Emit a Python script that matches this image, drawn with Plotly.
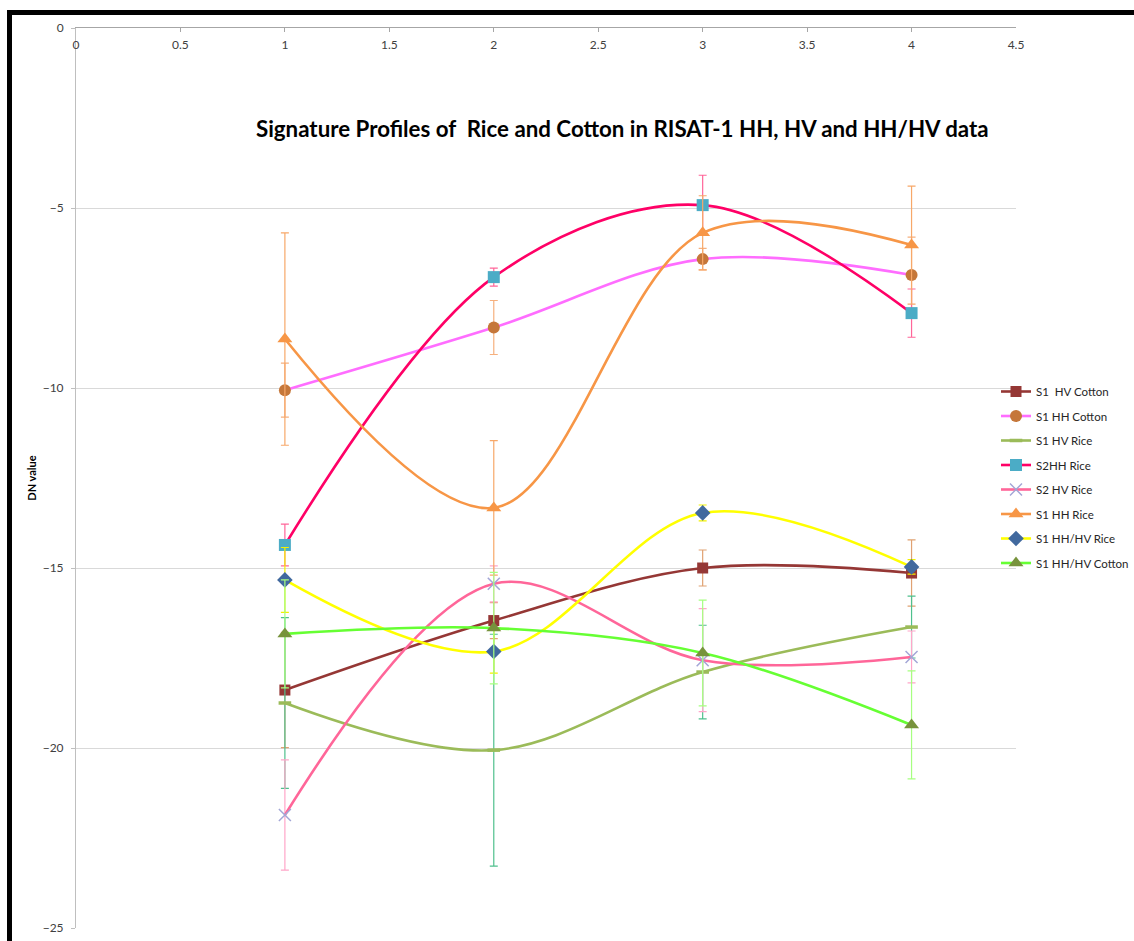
import plotly.graph_objects as go

# ---- data ----
x_vals = [1, 2, 3, 4]
series_names = ["S1  HV Cotton", "S1 HH Cotton", "S1 HV Rice", "S2HH Rice",
                "S2 HV Rice", "S1 HH Rice", "S1 HH/HV Rice", "S1 HH/HV Cotton"]

s1_hv_cotton = [-18.39, -16.46, -15.0, -15.14]
s1_hh_cotton = [-10.06, -8.32, -6.42, -6.86]
s1_hv_rice = [-18.75, -20.06, -17.89, -16.64]
s2_hh_rice = [-14.36, -6.92, -4.92, -7.92]
s2_hv_rice = [-21.86, -15.44, -17.56, -17.47]
s1_hh_rice = [-8.64, -13.33, -5.69, -6.03]
s1_hhhv_rice = [-15.33, -17.32, -13.47, -14.97]
s1_hhhv_cotton = [-16.83, -16.67, -17.36, -19.36]

err_s1_hv_cotton = [1.6, 0.5, 0.5, 0.92]
err_s1_hh_cotton = [0.75, 0.75, 0.3, 1.05]
err_s1_hv_rice = [2.37, 3.22, 1.3, 0.86]
err_s2_hh_rice = [0.58, 0.25, 0.83, 0.67]
err_s2_hv_rice = [1.53, 0.5, 1.43, 0.72]
err_s1_hh_rice = [2.95, 1.87, 1.03, 1.64]
err_s1_hhhv_rice = [0.9, 0.6, 0.22, 0.2]
err_s1_hhhv_cotton = [1.5, 1.55, 1.47, 1.5]

title_text = "Signature Profiles of  Rice and Cotton in RISAT-1 HH, HV and HH/HV data"

# ---- styles ----
styles = [
    dict(y=s1_hv_cotton, err=err_s1_hv_cotton, line="#953735", ecol="#e0a272",
         marker=dict(symbol="square", size=11, color="#953735")),
    dict(y=s1_hh_cotton, err=err_s1_hh_cotton, line="#ff6dff", ecol="#f6b07e",
         marker=dict(symbol="circle", size=12, color="#c5773a")),
    dict(y=s1_hv_rice, err=err_s1_hv_rice, line="#9bbb59", ecol="#4fc08d",
         marker=dict(symbol="line-ew", size=9, color="#9bbb59",
                     line=dict(width=3.5, color="#9bbb59"))),
    dict(y=s2_hh_rice, err=err_s2_hh_rice, line="#ff0066", ecol="#ff6699",
         marker=dict(symbol="square", size=12, color="#4bacc6")),
    dict(y=s2_hv_rice, err=err_s2_hv_rice, line="#ff6699", ecol="#ffa6c9",
         marker=dict(symbol="x-thin", size=12, color="#a3a6d6",
                     line=dict(width=1.5, color="#a3a6d6"))),
    dict(y=s1_hh_rice, err=err_s1_hh_rice, line="#f79646", ecol="#f7a869",
         marker=dict(symbol="triangle-up", size=13, color="#f79646")),
    dict(y=s1_hhhv_rice, err=err_s1_hhhv_rice, line="#ffff00", ecol="#f2f200",
         marker=dict(symbol="diamond", size=12, color="#41699e")),
    dict(y=s1_hhhv_cotton, err=err_s1_hhhv_cotton, line="#66ff33", ecol="#a6ff80",
         marker=dict(symbol="triangle-up", size=13, color="#77933c")),
]

fig = go.Figure()
for i, (name, st) in enumerate(zip(series_names, styles)):
    fig.add_trace(go.Scatter(
        x=x_vals, y=st["y"], name=name, mode="lines+markers",
        line=dict(color=st["line"], width=2.6, shape="spline", smoothing=1.0),
        marker=st["marker"],
        error_y=dict(type="data", array=st["err"], visible=True,
                     color=st["ecol"], thickness=1.2, width=4),
        legendgroup=f"g{i}",
    ))

font_main = "Lato, 'Liberation Sans', sans-serif"

W, H = 1134, 941
ML, MR, MT, MB = 76, 118, 28, 13
PW, PH = W - ML - MR, H - MT - MB


def px_x(p):
    return (p - ML) / PW


def px_y(p):
    return (H - MB - p) / PH


fig.update_layout(
    width=W, height=H,
    margin=dict(l=ML, r=MR, t=MT, b=MB, autoexpand=False),
    paper_bgcolor="white", plot_bgcolor="white",
    font=dict(family=font_main, size=12, color="#404040"),
    showlegend=True,
    legend=dict(x=px_x(996), y=px_y(377), xanchor="left", yanchor="top",
                font=dict(family=font_main, size=11.5, color="#262626"),
                tracegroupgap=5.5, bgcolor="rgba(0,0,0,0)", itemwidth=30),
    xaxis=dict(range=[0, 4.5], dtick=0.5, tick0=0, side="top",
               showline=True, linecolor="#a6a6a6", linewidth=1,
               showgrid=False, zeroline=False, automargin=False,
               ticks="inside", ticklen=4, tickcolor="#a6a6a6",
               ticklabelposition="inside", ticklabeloverflow="allow",
               ticklabelstandoff=8,
               tickfont=dict(family=font_main, size=12, color="#404040")),
    yaxis=dict(range=[-25, 0], dtick=5, tick0=0,
               showline=True, linecolor="#bfbfbf", linewidth=1,
               showgrid=True, gridcolor="#d9d9d9", gridwidth=1,
               zeroline=False, automargin=False,
               ticks="outside", ticklen=4, tickcolor="#bfbfbf",
               ticklabelstandoff=5, ticklabeloverflow="allow",
               tickfont=dict(family=font_main, size=12, color="#404040"),
               title=dict(text="<b>DN value</b>", standoff=3,
                          font=dict(family=font_main, size=11, color="#000000"))),
)

fig.add_annotation(text=f"<b>{title_text}</b>", xref="paper", yref="paper",
                   x=px_x(622), y=px_y(128), xanchor="center", yanchor="middle",
                   showarrow=False,
                   font=dict(family=font_main, size=22.3, color="#000000"))

# black frame (left and top edges visible), kept inside the page
fig.add_shape(type="line", xref="paper", yref="paper",
              x0=px_x(9.5), x1=px_x(9.5), y0=px_y(10), y1=px_y(H),
              line=dict(color="black", width=5), layer="above")
fig.add_shape(type="line", xref="paper", yref="paper",
              x0=px_x(7), x1=px_x(W), y0=px_y(12.5), y1=px_y(12.5),
              line=dict(color="black", width=5), layer="above")

fig.write_html("out.html",
               config={"displayModeBar": False},
               post_script="document.body.style.margin='0';document.body.style.overflow='hidden';")
